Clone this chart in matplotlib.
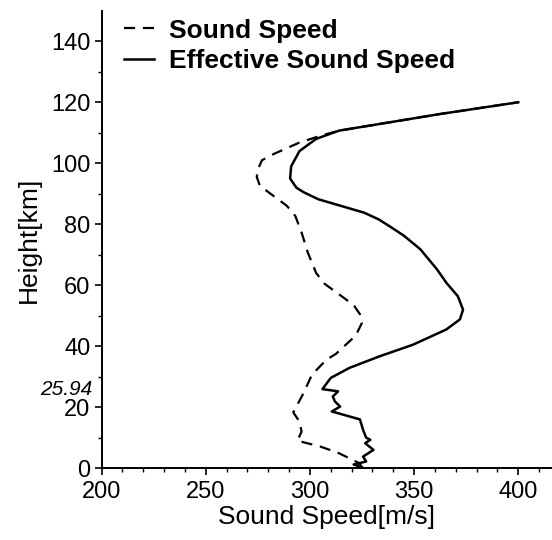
import numpy as np
import matplotlib.pyplot as plt
from matplotlib import transforms

plt.rcParams['font.family'] = ['Liberation Sans', 'DejaVu Sans']

# sound speed profile (dashed), km / m/s
h_sound = [0, 1.6, 2.2, 4.9, 7.1, 9.0, 12.0, 15.3, 18.3, 24.7, 30.7, 35.6, 37.5,
           43.5, 47.7, 50.5, 53.5, 57.5, 60.5, 64.0, 70.7, 77.3, 82.7, 86.0, 89.3,
           92.6, 95.5, 98.0, 101.0, 103.0, 106.8, 109.0, 110.7, 113.4, 116.1, 120.0]
c_sound = [325, 324, 322, 314, 305, 294, 296, 295, 292, 297, 301, 308, 312.5,
           322, 325, 324, 321, 313, 307, 303, 299, 296, 293, 289, 282.5,
           276, 274.5, 275, 277, 282.5, 295, 305, 314, 338, 362, 400]

# effective sound speed profile (solid)
h_eff = [0.3, 1.2, 2.2, 3.8, 6.0, 8.2, 9.3, 10.0, 12.6, 16.0, 18.6, 20.2, 21.9,
         23.5, 25.2, 25.94, 29.6, 32.9, 36.7, 40.5, 45.5, 48.8, 52.0, 56.4, 60.8,
         65.2, 71.8, 76.3, 79.0, 81.6, 83.8, 86.0, 88.2, 90.5, 92.0, 95.0, 99.0,
         104.0, 108.0, 110.7, 113.4, 116.1, 120.0]
c_eff = [325, 321, 327, 325.5, 330.5, 326.5, 329, 327, 325.5, 324, 310.5, 314.5, 312,
         311, 313.5, 306, 310, 319, 333.5, 349.5, 365.5, 372, 373.5, 371, 365.5,
         361, 353, 345, 339, 333, 326, 315, 304, 297, 293.5, 290.5, 291,
         295, 303, 314, 338, 362, 400]

fig = plt.figure(figsize=(5.52, 5.4), dpi=100)
ax = fig.add_axes([0.184, 0.133, 0.816, 0.847])

ax.plot(c_sound, h_sound, color='black', lw=1.6, ls=(0, (5, 3.5)), label='Sound Speed')
ax.plot(c_eff, h_eff, color='black', lw=1.8, label='Effective Sound Speed')

ax.set_xlim(200, 416.2)
ax.set_ylim(0, 150)
ax.set_xticks([200, 250, 300, 350, 400])
ax.set_xticks(np.arange(210, 416, 10), minor=True)
ax.set_yticks(np.arange(0, 141, 20))
ax.set_yticks(np.arange(10, 150, 20), minor=True)

for s in ['top', 'right']:
    ax.spines[s].set_visible(False)
ax.spines['left'].set_linewidth(1.4)
ax.spines['bottom'].set_linewidth(1.4)
ax.tick_params(which='major', direction='out', length=5, width=1.2, labelsize=17)
ax.tick_params(axis='x', which='major', pad=4)
ax.tick_params(axis='y', which='major', pad=3)
ax.tick_params(which='minor', direction='out', length=3, width=1.0)

ax.set_xlabel('Sound Speed[m/s]', fontsize=19, labelpad=2)
ax.set_ylabel('Height[km]', fontsize=19, labelpad=7)

trans = transforms.blended_transform_factory(ax.transAxes, ax.transData)
ax.text(-0.02, 25.9, '25.94', transform=trans, ha='right', va='center',
        fontsize=15, style='italic')

leg = ax.legend(loc='upper left', bbox_to_anchor=(-0.003, 1.035), frameon=False,
                handlelength=1.15, handletextpad=0.55, labelspacing=0.25,
                prop={'weight': 'bold', 'size': 19})

fig.savefig('out.png', dpi=100)
